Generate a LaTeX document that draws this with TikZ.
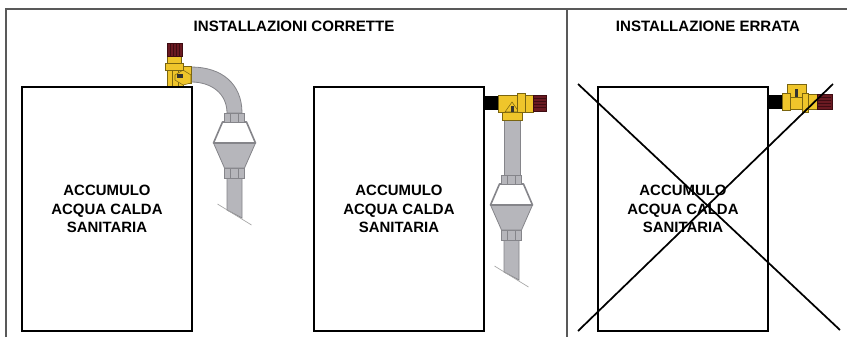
\documentclass[tikz,border=0pt]{standalone}
\usepackage{fontspec}
\setmainfont{Liberation Sans}
\definecolor{pipegrey}{HTML}{B6B6BB}
\definecolor{pipeedge}{HTML}{85858A}
\definecolor{brass}{HTML}{EFC52B}
\definecolor{brassedge}{HTML}{7A6510}
\definecolor{capred}{HTML}{6A1A22}
\definecolor{capdark}{HTML}{3E0C12}
\tikzset{
  x=0.75pt,y=-0.75pt,
  frameline/.style={draw=black!65,line width=0.8pt},
  tank/.style={draw=black,line width=1.9pt,fill=white,minimum width=127.5pt,minimum height=183pt,inner sep=0pt,align=center,font=\fontsize{11.2}{13.9}\selectfont\bfseries},
  heading/.style={font=\fontsize{11.3}{13}\selectfont\bfseries,inner sep=0pt},
  pipe/.style={fill=pipegrey,draw=pipeedge,line width=0.6pt},
  glass/.style={fill=white,draw=pipeedge,line width=1.2pt,line join=round},
  cut/.style={draw=black!35,line width=0.5pt},
  metal/.style={fill=brass,draw=brassedge,line width=0.4pt},
  redcap/.style={fill=capred,draw=capdark,line width=0.3pt},
  stub/.style={fill=black,draw=black},
  crossline/.style={draw=black,line width=1.3pt},
  filter/.pic={
    \draw[pipe] (-7.5,65) -- (7.5,65) -- (7.5,105) -- (-7.5,97) -- cycle;
    \draw[cut] (-17,91) -- (17,112);
    \draw[pipe] (-10,55) rectangle (10,65);
    \draw[pipe] (-4,55) -- (-4,65) (4,55) -- (4,65);
    \draw[pipe] (-21,30) -- (21,30) -- (10,55) -- (-10,55) -- cycle;
    \draw[glass] (-12,9) -- (12,9) -- (21,30) -- (-21,30) -- cycle;
    \draw[pipe] (-10,0) rectangle (10,9);
    \draw[pipe] (-4,0) -- (-4,9) (4,0) -- (4,9);
  },
  capstripes/.pic={
    \foreach \k in {1,2,3,4}{\draw[capdark,line width=0.3pt] (0,\k*3) -- (14,\k*3);}
  }
}
\begin{document}
\begin{tikzpicture}
\useasboundingbox (0,0) rectangle (847,337);
\fill[white] (0,0) rectangle (847,337);
\coordinate (frameTL) at (6,9);
\coordinate (frameBL) at (6,337);
\coordinate (frameTR) at (847,9);
\coordinate (divT) at (567,9);
\coordinate (divB) at (567,337);
\draw[frameline] (frameBL) -- (frameTL) -- (frameTR);
\draw[frameline] (divT) -- (divB);
\node[heading] (h1) at (294,26) {INSTALLAZIONI CORRETTE};
\node[heading] (h2) at (708,26) {INSTALLAZIONE ERRATA};

% --- left installation
\draw[pipe] (191,67) .. controls (222,67) and (242,84) .. (242,113) -- (227,113) .. controls (227,94) and (212,82) .. (191,82);
\pic at (234.5,113) {filter};
\draw[metal] (183,66) rectangle (191,83);
\draw[metal] (167,70) rectangle (183,87);
\draw[metal] (172,70) -- (172,87) (178,70) -- (178,87);
\draw[metal] (175,75) -- (183,70) -- (191,75) -- (191,83) -- (183,85) -- (175,80) -- cycle;
\fill[black!80] (177,74) rectangle (183,78);
\draw[metal] (165,63) rectangle (183,70);
\draw[metal] (167,56) rectangle (181,63);
\draw[redcap] (167,43) rectangle (182,56);
\foreach \k in {170,173,176,179}{\draw[capdark,line width=0.3pt] (\k,43) -- (\k,56);}
\node[tank] (tankA) at (107,209) {ACCUMULO\\ACQUA CALDA\\SANITARIA};

% --- centre installation
\draw[pipe] (504,120) rectangle (520,175);
\pic at (511.5,175) {filter};
\node[tank] (tankB) at (399,209) {ACCUMULO\\ACQUA CALDA\\SANITARIA};
\fill[stub] (485,96) rectangle (498,109);
\draw[metal] (502,110) rectangle (522,120);
\draw[metal] (498,95) rectangle (517,112);
\draw[metal] (505,112) -- (512,102) -- (519,112) -- cycle;
\fill[black!80] (511,106) rectangle (514,112);
\draw[metal] (517,93) rectangle (525,112);
\draw[metal] (525,95) rectangle (533,112);
\draw[redcap] (533,95) rectangle (546,111);
\pic at (533,95) {capstripes};

% --- right installation
\node[tank] (tankC) at (683,209) {ACCUMULO\\ACQUA CALDA\\SANITARIA};
\fill[stub] (769,95) rectangle (782,108);
\draw[metal] (787,84) rectangle (806,97);
\draw[metal] (782,93) rectangle (790,110);
\draw[metal] (790,97) rectangle (802,109);
\fill[black!80] (795,89) rectangle (798,97);
\draw[metal] (802,93) rectangle (808,112);
\draw[metal] (808,94) rectangle (817,109);
\draw[redcap] (817,94) rectangle (832,109);
\pic at (817,94) {capstripes};
\coordinate (xA) at (578,84);
\coordinate (xB) at (840,330);
\coordinate (xC) at (578,331);
\coordinate (xD) at (833,84);
\draw[crossline] (xA) -- (xB);
\draw[crossline] (xC) -- (xD);
\end{tikzpicture}
\end{document}
